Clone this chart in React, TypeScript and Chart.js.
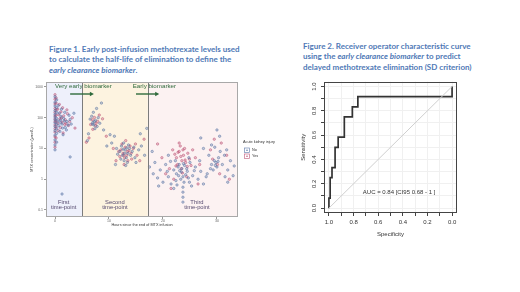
import React, { useEffect, useRef } from "react";
import { Chart, registerables } from "chart.js";
Chart.register(...registerables);

// ---------------- Figure 1 data ----------------
// [hours since end of MTX infusion, MTX concentration (µmol/L)]
const noPoints: [number, number][] = [
  [0,480],[0,320],[0,240],[0,170],[0,130],[0,105],[0,85],[0,68],[0,52],[0,38],[0,27],[0,19],[0,13],[0,9],
  [0.3,380],[0.3,210],[0.3,150],[0.3,95],[0.3,62],[0.3,44],[0.3,31],[0.3,16],
  [0.8,140],[1.0,85],[1.1,110],[1.3,62],[1.6,95],[1.9,48],[2.2,75],[0.9,36],[1.5,28],[2.6,120],[3.0,62],[1.2,190],
  [0.6,250],[1.8,150],[2.1,40],[1.4,46],[0.7,55],[2.8,88],[1.0,70],[1.7,78],[2.4,58],[0.5,78],[2.8,5.3],[1.3,0.33],[3.5,140],
  [6.5,90],[7.0,70],[7.2,58],[7.5,82],[7.8,52],[6.8,112],[7.4,44],[8.0,100],[7.1,150],[8.3,66],[6.2,30],[6.0,18],
  [9.0,40],[8.6,300],[7.7,200],[7.3,75],[6.9,62],
  [12.0,8],[12.5,6],[13.0,9],[13.2,5],[13.5,7],[12.8,4],[13.8,10],[14.0,6],[12.3,12],[13.4,3.5],[14.3,8],[11.6,6.5],
  [12.7,15],[13.1,2.8],[14.8,5],[15.5,9],[10.5,15],[16.0,12],[11.0,25],[15.0,3.5],[13.6,13],[12.2,4.5],[12.9,7],
  [13.3,10.5],[14.6,11],[12.6,9.5],[11.4,10],[9.6,12],[10.2,28],[15.8,30],[16.6,6],[17.0,45],[11.2,3],
  [22.0,2],[22.5,1.5],[23.0,3],[23.5,2.2],[23.7,1.2],[24.0,2.8],[24.5,1.8],[25.0,3.5],[23.3,1.0],[24.2,1.4],[22.8,2.5],
  [23.9,0.8],[23.7,0.55],[23.7,0.38],[23.7,0.26],[23.7,0.18],[21.0,1.2],[20.5,3],[25.5,1.3],[26.0,2.5],[26.5,1.0],
  [21.5,0.7],[19.5,2],[18.5,3.5],[19.0,1.1],[27.0,1.8],[22.3,4],[24.8,5],[20.0,0.8],[25.3,0.6],[22.0,0.5],[18.0,8],
  [17.5,2.5],[27.5,0.7],[21.0,6],[23.4,1.7],[24.4,2.2],[22.9,1.3],[23.1,1.9],[24.7,1.1],[22.4,0.9],[25.8,1.9],[26.8,4],
  [20.8,1.8],[19.2,0.6],[28.0,1.2],[21.4,3.8],[23.8,3.2],[22.6,0.65],[24.9,0.8],[18.2,1.5],[33.0,1.3],[32.0,0.8],
  [29.0,3],[29.5,4],[29.8,3.5],[30.0,2.5],[30.3,5],[29.3,2],[28.5,6],[31.0,3],[30.6,8],[29.0,13],[30.5,25],[31.5,1.2],
  [32.0,2],[28.2,1.5],[32.5,4],[30.0,40],[29.6,11],[30.2,3.8],[29.7,2.8],[31.4,6],[28.8,2.2],[33.2,2.7],[31.8,9],
  [27.5,10],[27.0,22],
];
const yesPoints: [number, number][] = [
  [0,560],[0,400],[0,280],[0,200],[0,150],[0,115],[0,92],[0,74],[0,58],[0,44],[0,34],[0,24],[0,16],[0,11],
  [0.2,440],[0.2,300],[0.2,180],[0.2,120],[0.2,78],[0.2,50],[0.2,22],
  [0.5,190],[0.7,125],[0.9,92],[1.1,155],[1.3,72],[1.6,115],[1.9,86],[2.3,135],[2.5,56],[0.8,270],[1.4,210],[1.0,48],
  [2.0,66],[3.2,100],[3.7,46],[1.5,32],[0.5,66],[1.2,100],[1.8,60],[2.7,75],[0.6,38],[2.2,180],
  [6.9,86],[7.3,102],[7.6,66],[7.9,76],[8.2,122],[6.6,60],[7.0,42],[8.8,92],[6.3,22],[9.5,25],[5.8,16],[7.5,55],
  [12.2,9],[12.6,7],[13.0,11],[13.3,6],[13.7,8.5],[12.9,5],[14.1,7],[12.4,14],[13.5,4],[14.5,10],[11.8,8],[13.1,18],
  [12.0,5.5],[14.2,4.5],[15.2,6],[10.8,10],[16.5,20],[11.3,4],[13.9,12],[12.8,3],[13.4,8],[12.7,6],[14.9,14],[15.7,4],
  [22.5,5],[23.0,8],[23.5,4],[23.8,6],[24.2,3.5],[24.6,7],[23.2,12],[22.7,3],[24.0,10],[23.4,2.2],[24.9,4.5],[22.2,6.5],
  [23.6,1.6],[25.2,2.8],[21.8,9],[23.0,15],[24.4,1.2],[21.2,2.2],[26.0,5],[20.5,1.5],[26.8,3],[22.0,1.0],[25.5,9],
  [19.8,5],[23.3,5.5],[24.1,4.2],[22.8,7.5],[23.7,9],[24.5,2.6],[22.4,2.7],[29.2,4.5],[30.1,3],[28.8,9],[30.8,15],
  [31.8,6],[30.5,1.5],[29.5,20],[32.3,1.0],[19.0,14],[26.5,0.7],[21.5,0.5],
];
const hourTicks = [0, 10, 20, 30];
const concTicks = [0.1, 1, 10, 100, 1000];
const regionEdges = [-1.67, 5.0, 17.2, 33.9];
const regionNames = [["First", "time-point"], ["Second", "time-point"], ["Third", "time-point"]];
const regionCenters = [1.6, 11.1, 26.3];
const biomarkerLabels = ["Very early biomarker", "Early biomarker"];
const biomarkerStarts = [0, 14.4];
const arrowSpans = [[2.8, 7.2], [15.0, 19.3]];
const legendTitle = "Acute kidney injury";
const legendLabels = ["No", "Yes"];

// ---------------- Figure 2 data ----------------
const rocSpecificity = [1.0, 1.0, 0.99, 0.99, 0.975, 0.975, 0.95, 0.95, 0.925, 0.925, 0.875, 0.875, 0.81, 0.81, 0.765, 0.765, 0.0, 0.0];
const rocSensitivity = [0, 0.083, 0.083, 0.25, 0.25, 0.333, 0.333, 0.5, 0.5, 0.583, 0.583, 0.75, 0.75, 0.833, 0.833, 0.917, 0.917, 1.0];
const rocTicks = [0, 0.1, 0.2, 0.3, 0.4, 0.5, 0.6, 0.7, 0.8, 0.9, 1.0];
const aucLabel = "AUC = 0.84 [CI95 0.68 - 1 ]";

const NO_COLOR = "rgba(78,108,160,0.8)";
const NO_FILL = "rgba(78,108,160,0.3)";
const YES_COLOR = "rgba(186,74,110,0.8)";
const YES_FILL = "rgba(186,74,110,0.3)";
const SANS = "'Liberation Sans', Arial, sans-serif";

const fig1Plugin = {
  id: "fig1Deco",
  beforeDatasetsDraw(chart: any) {
    const { ctx, chartArea: a, scales } = chart;
    const x = scales.x;
    const fills = ["#eef0fb", "#fdf3e0", "#fcf2f2"];
    ctx.save();
    for (let i = 0; i < 3; i++) {
      const x0 = x.getPixelForValue(regionEdges[i]);
      const x1 = x.getPixelForValue(regionEdges[i + 1]);
      ctx.fillStyle = fills[i];
      ctx.fillRect(x0, a.top, x1 - x0, a.bottom - a.top);
    }
    ctx.restore();
  },
  afterDatasetsDraw(chart: any) {
    const { ctx, chartArea: a, scales } = chart;
    const x = scales.x;
    ctx.save();
    // separators
    ctx.strokeStyle = "#7c7c7c";
    ctx.lineWidth = 1;
    for (let i = 1; i <= 2; i++) {
      const px = Math.round(x.getPixelForValue(regionEdges[i])) + 0.5;
      ctx.beginPath();
      ctx.moveTo(px, a.top);
      ctx.lineTo(px, a.bottom);
      ctx.stroke();
    }
    // border
    ctx.strokeStyle = "#a8a8a8";
    ctx.strokeRect(Math.round(a.left) + 0.5, Math.round(a.top) + 0.5, Math.round(a.right - a.left) - 1, Math.round(a.bottom - a.top) - 1);
    // biomarker labels and arrows
    ctx.fillStyle = "#2f6a3c";
    ctx.strokeStyle = "#2f6a3c";
    ctx.font = `6.2px ${SANS}`;
    ctx.textBaseline = "middle";
    ctx.textAlign = "left";
    biomarkerLabels.forEach((t, i) => {
      ctx.fillText(t, x.getPixelForValue(biomarkerStarts[i]), a.top + 4.5);
      const x0 = x.getPixelForValue(arrowSpans[i][0]);
      const x1 = x.getPixelForValue(arrowSpans[i][1]);
      const yy = a.top + 12;
      ctx.lineWidth = 1.4;
      ctx.beginPath();
      ctx.moveTo(x0, yy);
      ctx.lineTo(x1 - 3, yy);
      ctx.stroke();
      ctx.beginPath();
      ctx.moveTo(x1, yy);
      ctx.lineTo(x1 - 4, yy - 2.2);
      ctx.lineTo(x1 - 4, yy + 2.2);
      ctx.closePath();
      ctx.fill();
    });
    // region labels
    ctx.fillStyle = "#55496f";
    ctx.font = `5.8px ${SANS}`;
    ctx.textAlign = "center";
    regionNames.forEach((lines, i) => {
      const cx = x.getPixelForValue(regionCenters[i]);
      ctx.fillText(lines[0], cx, a.bottom - 15);
      ctx.fillText(lines[1], cx, a.bottom - 9.5);
    });
    // legend
    ctx.textAlign = "left";
    ctx.fillStyle = "#333";
    ctx.font = `3.8px ${SANS}`;
    ctx.fillText(legendTitle, 243, 66);
    const cols = [[NO_COLOR, NO_FILL], [YES_COLOR, YES_FILL]];
    legendLabels.forEach((t, i) => {
      const top = 72 + i * 6;
      ctx.fillStyle = "#fff";
      ctx.fillRect(244.5, top, 5, 4.5);
      ctx.strokeStyle = cols[i][0];
      ctx.lineWidth = 0.7;
      ctx.strokeRect(244.5, top, 5, 4.5);
      ctx.fillStyle = cols[i][0];
      ctx.fillRect(246.3, top + 1.6, 1.4, 1.4);
      ctx.fillStyle = "#333";
      ctx.fillText(t, 252, top + 2.3);
    });
    ctx.restore();
  },
};

const fig2Plugin = {
  id: "fig2Deco",
  afterDatasetsDraw(chart: any) {
    const { ctx, chartArea: a, scales } = chart;
    const x = scales.x;
    const y = scales.y;
    ctx.save();
    ctx.strokeStyle = "#444";
    ctx.lineWidth = 1;
    ctx.strokeRect(Math.round(a.left) + 0.5, Math.round(a.top) + 0.5, Math.round(a.right - a.left) - 1, Math.round(a.bottom - a.top) - 1);
    ctx.fillStyle = "#333";
    ctx.font = `6px ${SANS}`;
    ctx.textAlign = "center";
    ctx.textBaseline = "middle";
    ctx.fillText(aucLabel, x.getPixelForValue(0.43), y.getPixelForValue(0.13));
    // rotated y tick labels
    rocTicks.forEach((v, i) => {
      if (i % 2 !== 0) return;
      ctx.save();
      ctx.translate(24, y.getPixelForValue(v));
      ctx.rotate(-Math.PI / 2);
      ctx.fillText(v.toFixed(1), 0, 0);
      ctx.restore();
    });
    ctx.restore();
  },
};

function Figure1() {
  const ref = useRef<HTMLCanvasElement>(null);
  useEffect(() => {
    const chart = new Chart(ref.current!, {
      type: "scatter",
      data: {
        datasets: [
          {
            label: legendLabels[0],
            data: noPoints.map(([h, c]) => ({ x: h, y: c })),
            borderColor: NO_COLOR,
            backgroundColor: NO_FILL,
            pointRadius: 1.2,
            borderWidth: 0.6,
          },
          {
            label: legendLabels[1],
            data: yesPoints.map(([h, c]) => ({ x: h, y: c })),
            borderColor: YES_COLOR,
            backgroundColor: YES_FILL,
            pointRadius: 1.2,
            borderWidth: 0.6,
          },
        ],
      },
      options: {
        animation: false,
        responsive: false,
        maintainAspectRatio: false,
        layout: { padding: { left: 30, right: 47, top: 6, bottom: 19 } },
        plugins: { legend: { display: false }, tooltip: { enabled: false } },
        scales: {
          x: {
            type: "linear",
            min: regionEdges[0],
            max: regionEdges[3],
            afterBuildTicks: (s: any) => { s.ticks = hourTicks.map((v) => ({ value: v })); },
            afterFit: (s: any) => { s.height = 10; },
            ticks: { font: { size: 3.5, family: SANS }, color: "#666", padding: 0, maxRotation: 0 },
            grid: { drawOnChartArea: false, tickLength: 2, color: "#999" },
            border: { display: false },
            title: { display: true, text: "Hours since the end of MTX infusion", font: { size: 3.8, family: SANS }, color: "#333", padding: 0 },
          },
          y: {
            type: "logarithmic",
            min: 0.059,
            max: 1450,
            afterBuildTicks: (s: any) => { s.ticks = concTicks.map((v) => ({ value: v })); },
            afterFit: (s: any) => { s.width = 16; },
            ticks: { font: { size: 3.5, family: SANS }, color: "#666", padding: 1, callback: (v: any) => String(v) },
            grid: { drawOnChartArea: false, tickLength: 2, color: "#999" },
            border: { display: false },
            title: { display: true, text: "MTX concentration (µmol/L)", font: { size: 3.6, family: SANS }, color: "#333", padding: 0 },
          },
        },
      },
      plugins: [fig1Plugin],
    } as any);
    return () => chart.destroy();
  }, []);
  return <canvas ref={ref} width={285} height={170} style={{ position: "absolute", left: 0, top: 76, width: 285, height: 170 }} />;
}

function Figure2() {
  const ref = useRef<HTMLCanvasElement>(null);
  useEffect(() => {
    const chart = new Chart(ref.current!, {
      type: "line",
      data: {
        datasets: [
          {
            label: "chance",
            data: [{ x: 1, y: 0 }, { x: 0, y: 1 }],
            borderColor: "#cfcfcf",
            borderWidth: 1,
            pointRadius: 0,
          },
          {
            label: "ROC",
            data: rocSpecificity.map((s, i) => ({ x: s, y: rocSensitivity[i] })),
            borderColor: "#333",
            borderWidth: 1.7,
            pointRadius: 0,
            tension: 0,
          },
        ],
      },
      options: {
        animation: false,
        responsive: false,
        maintainAspectRatio: false,
        layout: { padding: { left: 10, right: 33, top: 6, bottom: 7 } },
        plugins: { legend: { display: false }, tooltip: { enabled: false } },
        scales: {
          x: {
            type: "linear",
            reverse: true,
            min: -0.04,
            max: 1.04,
            afterBuildTicks: (s: any) => { s.ticks = rocTicks.map((v) => ({ value: v })); },
            afterFit: (s: any) => { s.height = 25; },
            ticks: {
              font: { size: 6, family: SANS },
              color: "#333",
              padding: 3,
              maxRotation: 0,
              autoSkip: false,
              callback: (v: any, i: number) => (i % 2 === 0 ? Number(v).toFixed(1) : ""),
            },
            grid: { color: "#f0f0f0", tickColor: "#444", tickLength: 3 },
            border: { display: false },
            title: { display: true, text: "Specificity", font: { size: 6, family: SANS }, color: "#333", padding: 0 },
          },
          y: {
            type: "linear",
            min: -0.04,
            max: 1.04,
            afterBuildTicks: (s: any) => { s.ticks = rocTicks.map((v) => ({ value: v })); },
            afterFit: (s: any) => { s.width = 24; },
            ticks: { display: true, callback: () => "", font: { size: 6 } },
            grid: { color: "#f0f0f0", tickColor: "#444", tickLength: 3 },
            border: { display: false },
            title: { display: true, text: "Sensitivity", font: { size: 6, family: SANS }, color: "#333", padding: 0 },
          },
        },
      },
      plugins: [fig2Plugin],
    } as any);
    return () => chart.destroy();
  }, []);
  return <canvas ref={ref} width={200} height={170} style={{ position: "absolute", left: 290, top: 75, width: 200, height: 170 }} />;
}

const titleStyle: React.CSSProperties = {
  position: "absolute",
  fontFamily: "Lato, 'Open Sans', sans-serif",
  fontWeight: 700,
  fontSize: 8,
  lineHeight: "10.5px",
  color: "#4f79b6",
  whiteSpace: "nowrap",
};

export default function App() {
  return (
    <div style={{ position: "absolute", left: 0, top: 0, width: 520, height: 292, background: "#fff", overflow: "hidden" }}>
      <div style={{ ...titleStyle, left: 49, top: 43.5 }}>
        Figure 1. Early post-infusion methotrexate levels used<br />
        to calculate the half-life of elimination to define the<br />
        <i>early clearance biomarker</i>.
      </div>
      <div style={{ ...titleStyle, left: 303, top: 40.5 }}>
        Figure 2. Receiver operator characteristic curve<br />
        using the <i>early clearance biomarker</i> to predict<br />
        delayed methotrexate elimination (SD criterion)
      </div>
      <Figure1 />
      <Figure2 />
    </div>
  );
}
